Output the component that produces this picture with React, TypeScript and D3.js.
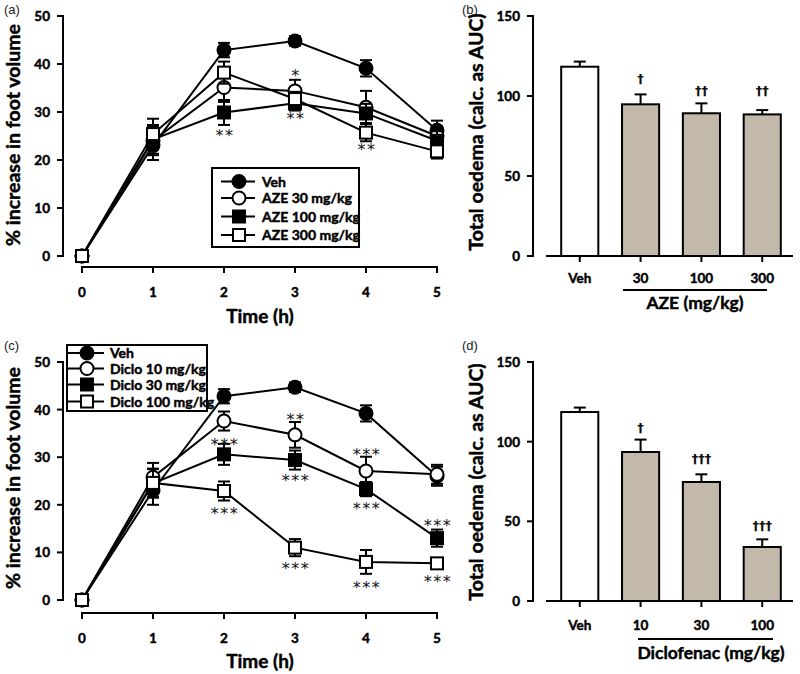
import React from 'react';
import * as d3 from 'd3';

// ---------- data ----------
const timeTicks = [0, 1, 2, 3, 4, 5];
const lineYTicks = [0, 10, 20, 30, 40, 50];
const barYTicks = [0, 50, 100, 150];

const azeLegend = ['Veh', 'AZE 30 mg/kg', 'AZE 100 mg/kg', 'AZE 300 mg/kg'];
const dicloLegend = ['Veh', 'Diclo 10 mg/kg', 'Diclo 30 mg/kg', 'Diclo 100 mg/kg'];
const markerKinds = ['filledCircle', 'openCircle', 'filledSquare', 'openSquare'];

const vehMeanA = [0, 23, 42.9, 44.8, 39.1, 26.2];
const vehErrA = [0, 3, 1.5, 1, 1.7, 2];
const aze30Mean = [0, 24, 35.1, 34.4, 31.0, 25];
const aze30Err = [0, 3, 3, 2.3, 3.4, 2];
const aze100Mean = [0, 24.3, 29.9, 31.8, 29.7, 24];
const aze100Err = [0, 3, 2.6, 1.5, 2, 2];
const aze300Mean = [0, 25.4, 38.2, 32.7, 25.7, 21.8];
const aze300Err = [0, 3.2, 2.3, 1.5, 1.8, 1.5];

const vehMeanC = [0, 23, 42.8, 44.7, 39.2, 26];
const vehErrC = [0, 3, 1.5, 1, 1.7, 2];
const diclo10Mean = [0, 25.8, 37.6, 34.7, 27.1, 26.4];
const diclo10Err = [0, 3, 2, 2.7, 3, 2];
const diclo30Mean = [0, 24.5, 30.6, 29.4, 23.3, 13.0];
const diclo30Err = [0, 3, 2.2, 2, 1.5, 1.8];
const diclo100Mean = [0, 24.6, 22.9, 11.0, 8.0, 7.7];
const diclo100Err = [0, 3, 2, 1.8, 2.5, 1];

const azeSig = [
  { t: 2, v: 25.8, text: '**' },
  { t: 3, v: 38.3, text: '*' },
  { t: 3, v: 29.4, text: '**' },
  { t: 4, v: 22.9, text: '**' },
];
const dicloSig = [
  { t: 2, v: 33.5, text: '***' },
  { t: 2, v: 18.9, text: '***' },
  { t: 3, v: 38.6, text: '**' },
  { t: 3, v: 25.8, text: '***' },
  { t: 3, v: 7.3, text: '***' },
  { t: 4, v: 31.4, text: '***' },
  { t: 4, v: 19.9, text: '***' },
  { t: 4, v: 3.4, text: '***' },
  { t: 5, v: 16.4, text: '***' },
  { t: 5, v: 4.6, text: '***' },
];

const azeBarCats = ['Veh', '30', '100', '300'];
const azeBarMean = [118.3, 94.8, 89.2, 88.5];
const azeBarErr = [3.2, 6.2, 6.2, 2.7];
const azeBarSig = ['', '†', '††', '††'];
const azeBarSigV = [0, 111, 103.8, 103.8];

const dicloBarCats = ['Veh', '10', '30', '100'];
const dicloBarMean = [118.6, 93.5, 74.7, 33.9];
const dicloBarErr = [2.8, 7.8, 4.8, 4.8];
const dicloBarSig = ['', '†', '†††', '†††'];
const dicloBarSigV = [0, 109.2, 89.8, 47.5];

// ---------- styling ----------
const FONT = "Lato, 'Open Sans', sans-serif";
const BAR_FILL = '#c3b9ab';
const SW = 2;
const bold = { fontFamily: FONT, fontWeight: 700, stroke: '#000', strokeWidth: 0.45 } as const;

type Series = { mean: number[]; err: number[] };

function Marker({ kind, x, y }: { kind: string; x: number; y: number }) {
  const filled = kind.startsWith('filled');
  const fill = filled ? '#000' : '#fff';
  if (kind.endsWith('Circle')) {
    return <circle cx={x} cy={y} r={6.5} fill={fill} stroke="#000" strokeWidth={SW} />;
  }
  return <rect x={x - 6} y={y - 6} width={12} height={12} fill={fill} stroke="#000" strokeWidth={SW} />;
}

function LinePanel(props: {
  top: number; bottom: number; axisY: number; series: Series[];
  sig: { t: number; v: number; text: string }[]; legend: string[];
  legendBox: { x: number; y: number; w: number; h: number; rows: number[]; mx: number; lx0: number; lx1: number; tx: number };
  tag: string; tagY: number; titleY: number; yLabelCy: number;
}) {
  const { top, bottom, axisY, series, sig, legend, legendBox, tag, tagY, titleY, yLabelCy } = props;
  const x = d3.scaleLinear().domain([0, 5]).range([82, 437]);
  const y = d3.scaleLinear().domain([0, 50]).range([bottom, top]);
  const axisX = 63;
  const line = d3.line<number>().x((_, i) => x(timeTicks[i])).y((d) => y(d));
  return (
    <g>
      <text x={4} y={tagY} fontFamily="'Liberation Sans', Arial, sans-serif" fontSize={13} fill="#222">{tag}</text>
      {/* y axis */}
      <line x1={axisX} x2={axisX} y1={y(0) + 1} y2={y(50) - 1} stroke="#000" strokeWidth={SW} />
      {lineYTicks.map((t) => (
        <g key={t}>
          <line x1={axisX - 6} x2={axisX} y1={y(t)} y2={y(t)} stroke="#000" strokeWidth={SW} />
          <text x={50} y={y(t) + 5} textAnchor="end" {...bold} fontSize={13.5}>{t}</text>
        </g>
      ))}
      <text transform={`translate(20,${yLabelCy}) rotate(-90)`} textAnchor="middle" {...bold} fontSize={19.5}>% increase in foot volume</text>
      {/* x axis */}
      <line x1={x(0) - 1} x2={x(5) + 1} y1={axisY} y2={axisY} stroke="#000" strokeWidth={SW} />
      {timeTicks.map((t) => (
        <g key={t}>
          <line x1={x(t)} x2={x(t)} y1={axisY} y2={axisY + 6} stroke="#000" strokeWidth={SW} />
          <text x={x(t)} y={axisY + 30} textAnchor="middle" {...bold} fontSize={13.5}>{t}</text>
        </g>
      ))}
      <text x={260} y={titleY} textAnchor="middle" {...bold} fontSize={19}>Time (h)</text>
      {/* series */}
      {series.map((s, si) => (
        <g key={si}>
          <path d={line(s.mean) || ''} fill="none" stroke="#000" strokeWidth={SW} />
          {s.mean.map((m, i) => s.err[i] > 0 ? (
            <g key={i}>
              <line x1={x(timeTicks[i])} x2={x(timeTicks[i])} y1={y(m - s.err[i])} y2={y(m + s.err[i])} stroke="#000" strokeWidth={SW} />
              <line x1={x(timeTicks[i]) - 6} x2={x(timeTicks[i]) + 6} y1={y(m + s.err[i])} y2={y(m + s.err[i])} stroke="#000" strokeWidth={SW} />
              <line x1={x(timeTicks[i]) - 6} x2={x(timeTicks[i]) + 6} y1={y(m - s.err[i])} y2={y(m - s.err[i])} stroke="#000" strokeWidth={SW} />
            </g>
          ) : null)}
          {s.mean.map((m, i) => <Marker key={'m' + i} kind={markerKinds[si]} x={x(timeTicks[i])} y={y(m)} />)}
        </g>
      ))}
      <g opacity={0.999}>
        {sig.map((a, i) => (
          <text key={i} x={x(a.t) + 1} y={y(a.v) + 9} textAnchor="middle" fontFamily="'DejaVu Sans', sans-serif" fontWeight={400} fontSize={16} letterSpacing={1.5} fill="#111">{a.text}</text>
        ))}
      </g>
      {/* legend */}
      <rect x={legendBox.x} y={legendBox.y} width={legendBox.w} height={legendBox.h} fill="#fff" stroke="#000" strokeWidth={SW} />
      {legend.map((l, i) => (
        <g key={l}>
          <line x1={legendBox.lx0} x2={legendBox.lx1} y1={legendBox.rows[i]} y2={legendBox.rows[i]} stroke="#000" strokeWidth={SW} />
          <Marker kind={markerKinds[i]} x={legendBox.mx} y={legendBox.rows[i]} />
          <text x={legendBox.tx} y={legendBox.rows[i] + 5} {...bold} fontSize={14}>{l}</text>
        </g>
      ))}
    </g>
  );
}

function BarPanel(props: {
  top: number; bottom: number; cats: string[]; mean: number[]; err: number[];
  sig: string[]; sigV: number[]; tag: string; tagY: number; group: string; lineY: number; groupY: number; groupX: number;
  lineX0: number; lineX1: number; tickLabelY: number; yLabelCy: number;
}) {
  const { top, bottom, cats, mean, err, sig, sigV, tag, tagY, group, lineY, groupY, groupX, lineX0, lineX1, tickLabelY, yLabelCy } = props;
  const y = d3.scaleLinear().domain([0, 150]).range([bottom, top]);
  const xb = d3.scaleBand().domain(cats).range([546, 796]).paddingInner(0.39).paddingOuter(0.25);
  const bw = xb.bandwidth();
  const axisX = 533;
  return (
    <g>
      <text x={462} y={tagY} fontFamily="'Liberation Sans', Arial, sans-serif" fontSize={13} fill="#222">{tag}</text>
      <line x1={axisX} x2={axisX} y1={y(0) + 1} y2={y(150) - 1} stroke="#000" strokeWidth={SW} />
      {barYTicks.map((t) => (
        <g key={t}>
          <line x1={axisX - 6} x2={axisX} y1={y(t)} y2={y(t)} stroke="#000" strokeWidth={SW} />
          <text x={520} y={y(t) + 5} textAnchor="end" {...bold} fontSize={13.5}>{t}</text>
        </g>
      ))}
      <text transform={`translate(483,${yLabelCy}) rotate(-90)`} textAnchor="middle" {...bold} fontSize={19.5}>Total oedema (calc. as AUC)</text>
      <line x1={546} x2={793} y1={y(0)} y2={y(0)} stroke="#000" strokeWidth={SW} />
      {cats.map((c, i) => {
        const cx = (xb(c) as number) + bw / 2;
        return (
          <g key={c}>
            <line x1={cx} x2={cx} y1={y(mean[i])} y2={y(mean[i] + err[i])} stroke="#000" strokeWidth={SW} />
            <line x1={cx - 6} x2={cx + 6} y1={y(mean[i] + err[i])} y2={y(mean[i] + err[i])} stroke="#000" strokeWidth={SW} />
            <rect x={xb(c)} y={y(mean[i])} width={bw} height={y(0) - y(mean[i])} fill={i === 0 ? '#fff' : BAR_FILL} stroke="#000" strokeWidth={SW} />
            <line x1={cx} x2={cx} y1={y(0)} y2={y(0) + 6} stroke="#000" strokeWidth={SW} />
            <text x={cx} y={tickLabelY} textAnchor="middle" {...bold} fontSize={13.5}>{c}</text>
            {sig[i] ? (
              <g opacity={0.999}>
                <text x={cx} y={y(sigV[i]) + 5} textAnchor="middle" fontFamily="'DejaVu Sans', sans-serif" fontWeight={700} fontSize={13} fill="#111">{sig[i]}</text>
              </g>
            ) : null}
          </g>
        );
      })}
      <line x1={lineX0} x2={lineX1} y1={lineY} y2={lineY} stroke="#000" strokeWidth={SW} />
      <text x={groupX} y={groupY} textAnchor="middle" {...bold} fontSize={17.5}>{group}</text>
    </g>
  );
}

export default function App() {
  const seriesA: Series[] = [
    { mean: vehMeanA, err: vehErrA },
    { mean: aze30Mean, err: aze30Err },
    { mean: aze100Mean, err: aze100Err },
    { mean: aze300Mean, err: aze300Err },
  ];
  const seriesC: Series[] = [
    { mean: vehMeanC, err: vehErrC },
    { mean: diclo10Mean, err: diclo10Err },
    { mean: diclo30Mean, err: diclo30Err },
    { mean: diclo100Mean, err: diclo100Err },
  ];
  return (
    <svg width={800} height={674} style={{ position: 'absolute', left: 0, top: 0, background: '#fff' }}>
      <rect x={0} y={0} width={800} height={674} fill="#fff" />
      <LinePanel top={16} bottom={256} axisY={267} series={seriesA} sig={azeSig} legend={azeLegend}
        legendBox={{ x: 212, y: 168, w: 147, h: 79, rows: [181.5, 198, 216.5, 235], mx: 239, lx0: 221, lx1: 255, tx: 262 }}
        tag="(a)" tagY={14} titleY={323} yLabelCy={135} />
      <LinePanel top={362} bottom={600} axisY={613} series={seriesC} sig={dicloSig} legend={dicloLegend}
        legendBox={{ x: 67, y: 345, w: 140, h: 66, rows: [353, 368.5, 384.5, 401.5], mx: 87, lx0: 67, lx1: 104, tx: 110 }}
        tag="(c)" tagY={350} titleY={668} yLabelCy={478} />
      <BarPanel top={16} bottom={256} cats={azeBarCats} mean={azeBarMean} err={azeBarErr} sig={azeBarSig} sigV={azeBarSigV}
        tag="(b)" tagY={14} group="AZE (mg/kg)" lineY={290} groupY={309} groupX={695} lineX0={623} lineX1={767} tickLabelY={283} yLabelCy={132} />
      <BarPanel top={362} bottom={601} cats={dicloBarCats} mean={dicloBarMean} err={dicloBarErr} sig={dicloBarSig} sigV={dicloBarSigV}
        tag="(d)" tagY={350} group="Diclofenac (mg/kg)" lineY={639} groupY={659} groupX={711} lineX0={638} lineX1={773} tickLabelY={630} yLabelCy={482} />
    </svg>
  );
}
